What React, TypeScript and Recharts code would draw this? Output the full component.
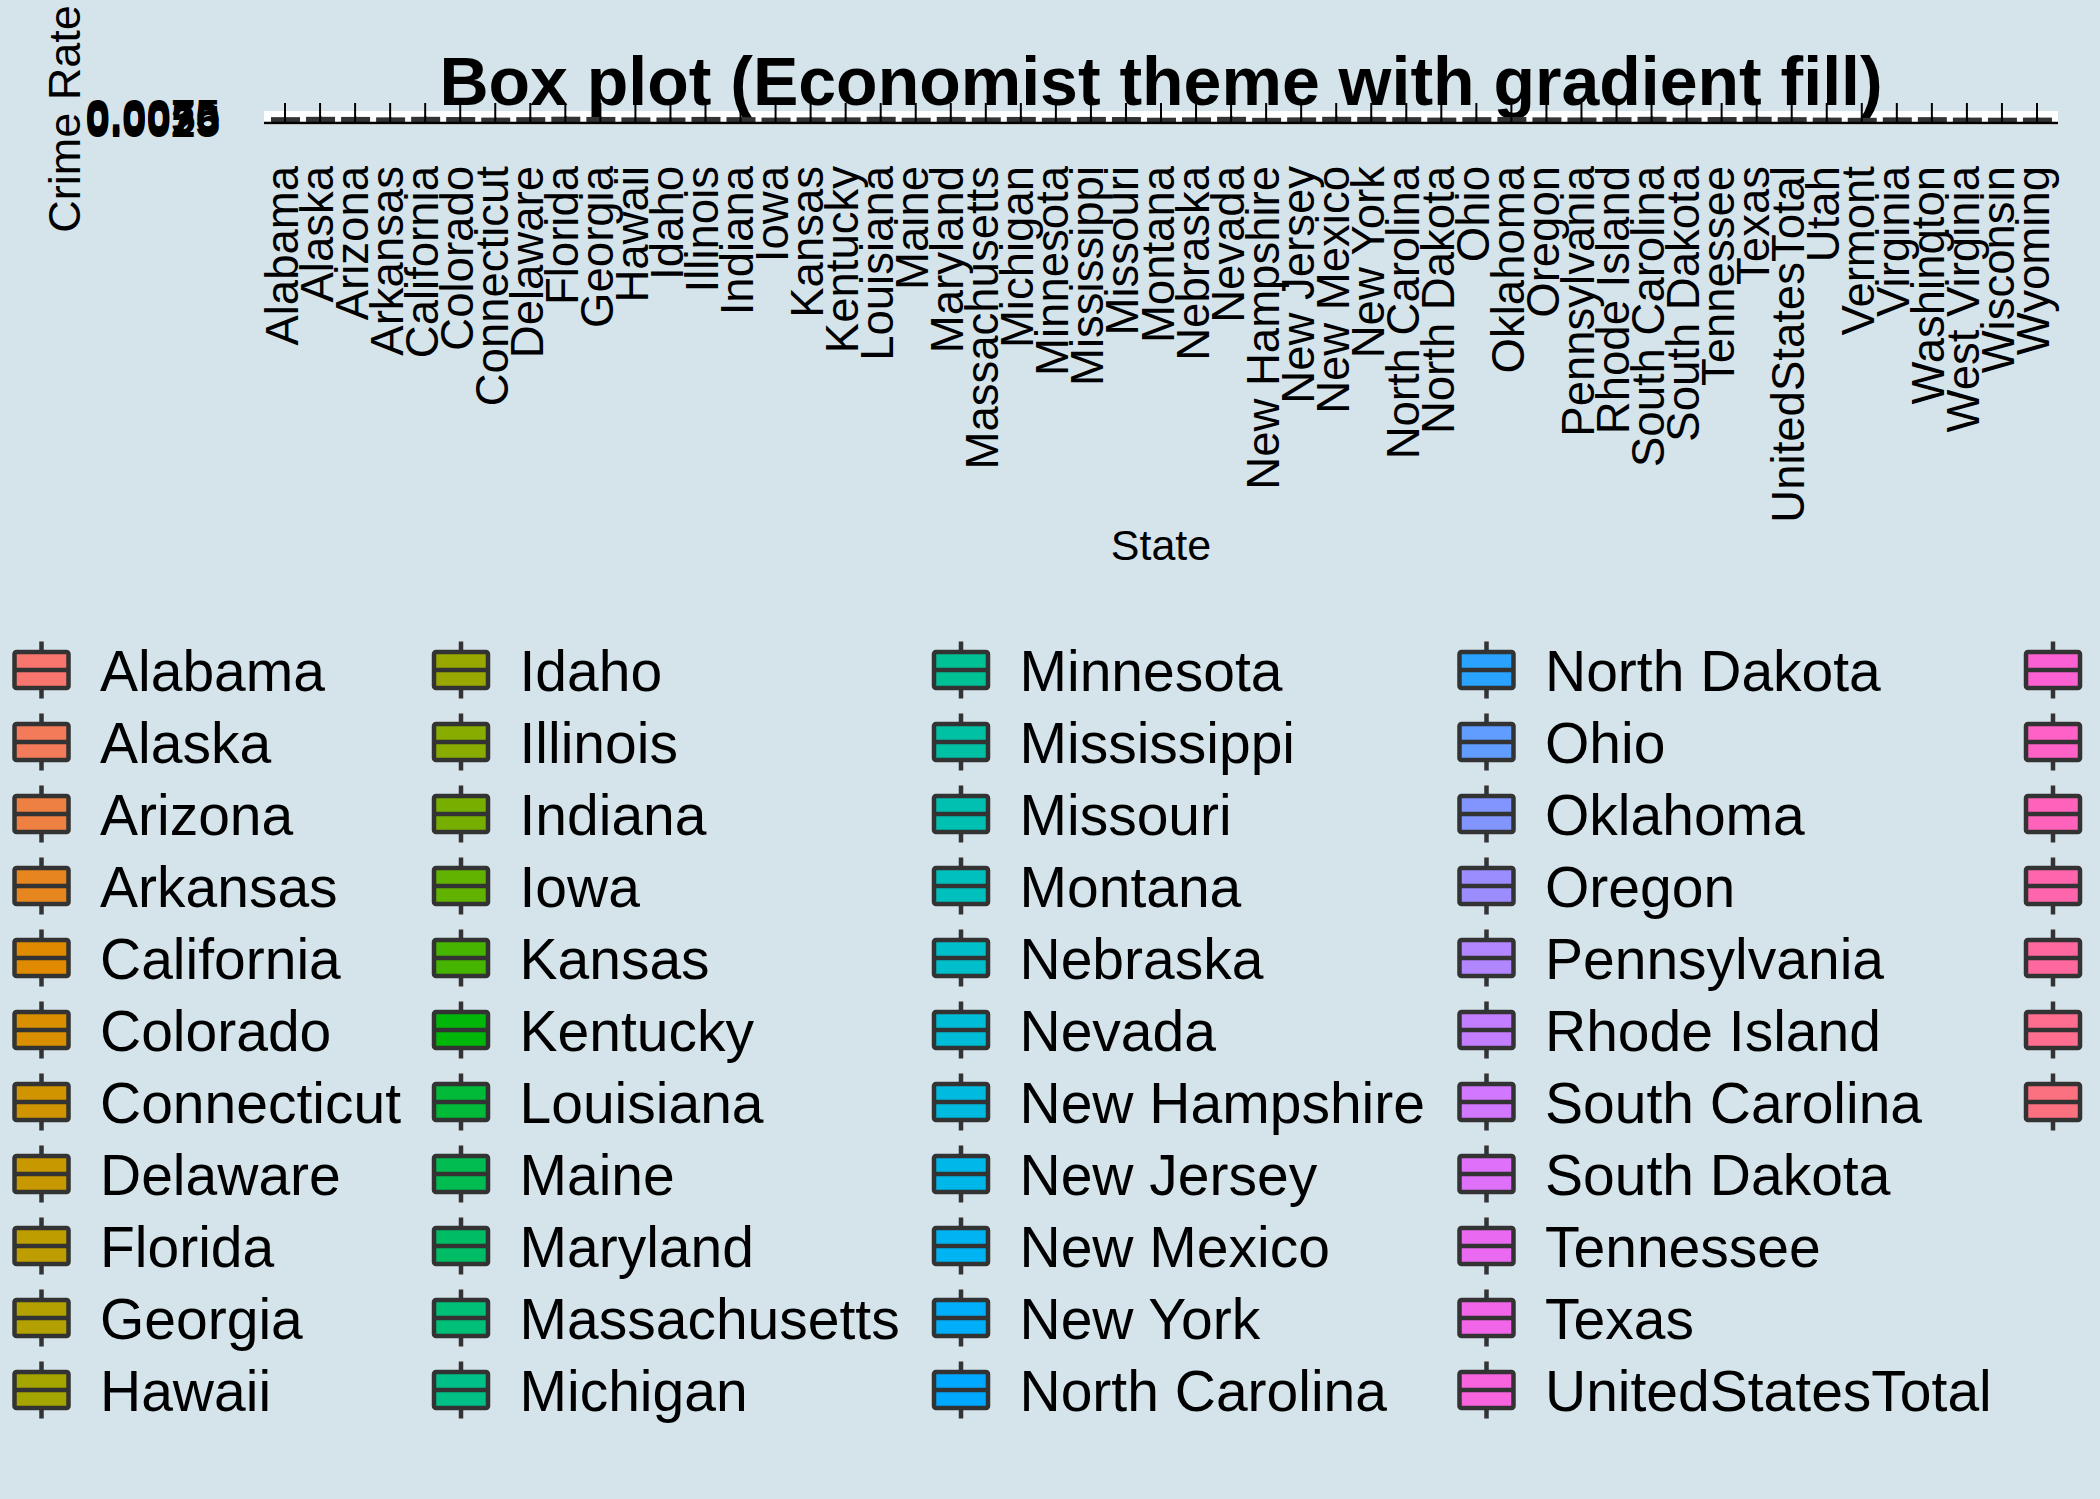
import React from 'react';
import { ComposedChart, Bar, XAxis, YAxis, CartesianGrid, Legend } from 'recharts';

const states = [
  'Alabama', 'Alaska', 'Arizona', 'Arkansas', 'California', 'Colorado', 'Connecticut', 'Delaware',
  'Florida', 'Georgia', 'Hawaii', 'Idaho', 'Illinois', 'Indiana', 'Iowa', 'Kansas', 'Kentucky',
  'Louisiana', 'Maine', 'Maryland', 'Massachusetts', 'Michigan', 'Minnesota', 'Mississippi',
  'Missouri', 'Montana', 'Nebraska', 'Nevada', 'New Hampshire', 'New Jersey', 'New Mexico',
  'New York', 'North Carolina', 'North Dakota', 'Ohio', 'Oklahoma', 'Oregon', 'Pennsylvania',
  'Rhode Island', 'South Carolina', 'South Dakota', 'Tennessee', 'Texas', 'UnitedStatesTotal',
  'Utah', 'Vermont', 'Virginia', 'Washington', 'West Virginia', 'Wisconsin', 'Wyoming',
];

const boxMin = [
  0.0009, 0.0010, 0.0009, 0.0008, 0.0010, 0.0009, 0.0008, 0.0009, 0.0010, 0.0009, 0.0008,
  0.0009, 0.0010, 0.0009, 0.0008, 0.0009, 0.0009, 0.0010, 0.0008, 0.0010, 0.0009, 0.0010,
  0.0008, 0.0009, 0.0010, 0.0008, 0.0009, 0.0010, 0.0008, 0.0009, 0.0010, 0.0010, 0.0009,
  0.0008, 0.0009, 0.0010, 0.0008, 0.0009, 0.0009, 0.0010, 0.0008, 0.0009, 0.0010, 0.0009,
  0.0008, 0.0008, 0.0009, 0.0009, 0.0008, 0.0008, 0.0008,
];
const boxQ1 = [
  0.0020, 0.0022, 0.0021, 0.0019, 0.0022, 0.0020, 0.0018, 0.0020, 0.0023, 0.0021, 0.0019,
  0.0019, 0.0021, 0.0020, 0.0018, 0.0019, 0.0019, 0.0022, 0.0018, 0.0021, 0.0019, 0.0021,
  0.0018, 0.0021, 0.0021, 0.0018, 0.0019, 0.0022, 0.0017, 0.0019, 0.0022, 0.0021, 0.0020,
  0.0018, 0.0020, 0.0021, 0.0019, 0.0019, 0.0020, 0.0022, 0.0018, 0.0021, 0.0022, 0.0020,
  0.0018, 0.0017, 0.0019, 0.0020, 0.0018, 0.0018, 0.0018,
];
const boxMedian = [
  0.0031, 0.0034, 0.0033, 0.0030, 0.0034, 0.0032, 0.0028, 0.0031, 0.0035, 0.0033, 0.0030,
  0.0029, 0.0033, 0.0031, 0.0028, 0.0030, 0.0030, 0.0034, 0.0028, 0.0033, 0.0030, 0.0033,
  0.0028, 0.0033, 0.0032, 0.0028, 0.0030, 0.0034, 0.0027, 0.0030, 0.0034, 0.0033, 0.0031,
  0.0028, 0.0031, 0.0032, 0.0030, 0.0029, 0.0031, 0.0034, 0.0028, 0.0032, 0.0034, 0.0031,
  0.0028, 0.0027, 0.0030, 0.0031, 0.0028, 0.0028, 0.0028,
];
const boxQ3 = [
  0.0046, 0.0049, 0.0048, 0.0044, 0.0049, 0.0047, 0.0042, 0.0046, 0.0050, 0.0048, 0.0044,
  0.0043, 0.0048, 0.0046, 0.0042, 0.0044, 0.0044, 0.0049, 0.0041, 0.0048, 0.0044, 0.0048,
  0.0041, 0.0048, 0.0047, 0.0041, 0.0044, 0.0049, 0.0040, 0.0044, 0.0049, 0.0048, 0.0046,
  0.0042, 0.0046, 0.0047, 0.0044, 0.0043, 0.0046, 0.0049, 0.0042, 0.0047, 0.0049, 0.0046,
  0.0042, 0.0040, 0.0044, 0.0046, 0.0042, 0.0041, 0.0042,
];
const boxMax = [
  0.0062, 0.0068, 0.0065, 0.0059, 0.0067, 0.0063, 0.0056, 0.0062, 0.0070, 0.0065, 0.0059,
  0.0057, 0.0065, 0.0062, 0.0055, 0.0059, 0.0059, 0.0068, 0.0054, 0.0065, 0.0059, 0.0066,
  0.0054, 0.0065, 0.0063, 0.0054, 0.0059, 0.0068, 0.0053, 0.0059, 0.0068, 0.0065, 0.0062,
  0.0056, 0.0062, 0.0063, 0.0059, 0.0057, 0.0062, 0.0068, 0.0055, 0.0063, 0.0068, 0.0062,
  0.0056, 0.0053, 0.0059, 0.0062, 0.0056, 0.0054, 0.0056,
];

const yTicks = [0.0025, 0.005, 0.0075];
const yDomain = [0.0006, 0.0098];

const BG = '#d5e4eb';
const FONT = '"Liberation Sans", Arial, Helvetica, sans-serif';
const OUTLINE = '#333333';

// ggplot's default hue palette: hcl(h, c = 100, l = 65)
function hcl(h: number, c: number, l: number) {
  const hr = (h * Math.PI) / 180;
  const U = c * Math.cos(hr);
  const V = c * Math.sin(hr);
  const Xn = 0.95047, Yn = 1.0, Zn = 1.08883;
  const Y = l > 8 ? Yn * Math.pow((l + 16) / 116, 3) : (Yn * l) / 903.3;
  const t = Xn + 15 * Yn + 3 * Zn;
  const un = (4 * Xn) / t, vn = (9 * Yn) / t;
  const u = U / (13 * l) + un;
  const v = V / (13 * l) + vn;
  const X = (Y * 9 * u) / (4 * v);
  const Z = (Y * (12 - 3 * u - 20 * v)) / (4 * v);
  const lin = [
    3.2404542 * X - 1.5371385 * Y - 0.4985314 * Z,
    -0.969266 * X + 1.8760108 * Y + 0.041556 * Z,
    0.0556434 * X - 0.2040259 * Y + 1.0572252 * Z,
  ];
  const hex = lin
    .map((c0) => {
      let g = c0 <= 0.0031308 ? 12.92 * c0 : 1.055 * Math.pow(c0, 1 / 2.4) - 0.055;
      g = Math.min(1, Math.max(0, g));
      return Math.round(g * 255).toString(16).padStart(2, '0');
    })
    .join('');
  return '#' + hex;
}

const palette = states.map((_, i) => hcl(15 + (i * 360) / states.length, 100, 65));

const rows = states.map((state, i) => ({
  state,
  min: boxMin[i],
  q1: boxQ1[i],
  median: boxMedian[i],
  q3: boxQ3[i],
  max: boxMax[i],
}));

const BoxShape = (props: any) => {
  const { x, y, width, height, payload, index } = props;
  const top = Math.min(y, y + height);
  const bottom = Math.max(y, y + height);
  const span = payload.max - payload.min;
  const py = (v: number) => bottom - ((bottom - top) * (v - payload.min)) / span;
  const cx = x + width / 2;
  return (
    <g>
      <line x1={cx} x2={cx} y1={py(payload.max)} y2={py(payload.min)} stroke={OUTLINE} strokeWidth={2.5} />
      <rect
        x={x}
        y={py(payload.q3)}
        width={width}
        height={py(payload.q1) - py(payload.q3)}
        fill={palette[index]}
        stroke={OUTLINE}
        strokeWidth={3}
      />
      <line x1={x} x2={x + width} y1={py(payload.median)} y2={py(payload.median)} stroke={OUTLINE} strokeWidth={3} />
    </g>
  );
};

const StateTick = (props: any) => {
  const { x, y, payload } = props;
  return (
    <g>
      <line x1={x} x2={x} y1={y} y2={y - 20} stroke="#000" strokeWidth={2} />
      <text
        transform={`translate(${x + 12.5},166) rotate(-90)`}
        textAnchor="end"
        fontSize={45.5}
        fontFamily={FONT}
        fill="#000"
      >
        {payload.value}
      </text>
    </g>
  );
};

const XTitle = (props: any) => {
  const { viewBox } = props;
  return (
    <text x={viewBox.x + viewBox.width / 2} y={viewBox.y + 437} textAnchor="middle" fontSize={43} fontFamily={FONT} fill="#000">
      State
    </text>
  );
};

const YTitle = () => (
  <text transform="translate(80,119) rotate(-90)" textAnchor="middle" fontSize={45} fontFamily={FONT} fill="#000">
    Crime Rate
  </text>
);

const legendCols = [41.5, 461, 961, 1486.5, 2053];
const ROWS_PER_COL = 11;
const CANVAS_W = 2100;

const LegendContent = () => (
  <svg width={CANVAS_W} height={820} style={{ display: 'block', overflow: 'hidden' }}>
    {states.map((s, i) => {
      const col = Math.floor(i / ROWS_PER_COL);
      const row = i % ROWS_PER_COL;
      const cx = legendCols[col];
      const cy = 50 + row * 72;
      const textX = cx + 58.5;
      return (
        <g key={s}>
          <line x1={cx} x2={cx} y1={cy - 28.5} y2={cy + 28.5} stroke={OUTLINE} strokeWidth={4.5} />
          <rect x={cx - 27} y={cy - 18} width={54} height={36} rx={2} fill={palette[i]} stroke={OUTLINE} strokeWidth={4.5} />
          <line x1={cx - 27} x2={cx + 27} y1={cy} y2={cy} stroke={OUTLINE} strokeWidth={4.5} />
          {/* the last column's labels fall past the right edge of the canvas, as in the original */}
          {textX < CANVAS_W && (
            <text x={textX} y={cy + 20.5} fontSize={57} fontFamily={FONT} fill="#000">
              {s}
            </text>
          )}
        </g>
      );
    })}
  </svg>
);

export default function App() {
  return (
    <div
      style={{
        position: 'absolute',
        left: 0,
        top: 0,
        width: CANVAS_W,
        height: 1499,
        background: BG,
        overflow: 'hidden',
      }}
    >
      <ComposedChart width={CANVAS_W} height={1499} data={rows} margin={{ top: 113, right: 42, bottom: 936, left: 0 }}>
        <CartesianGrid vertical={false} stroke="#ffffff" strokeWidth={4} />
        <XAxis
          dataKey="state"
          interval={0}
          padding={{ left: 3.5, right: 3.5 }}
          height={440}
          tickSize={0}
          tickMargin={0}
          axisLine={{ stroke: '#000', strokeWidth: 2.4 }}
          tickLine={false}
          tick={<StateTick />}
          label={<XTitle />}
        />
        <YAxis
          width={264}
          domain={yDomain}
          ticks={yTicks}
          interval={0}
          allowDataOverflow
          axisLine={false}
          tickLine={false}
          tickSize={0}
          tickMargin={44}
          tickFormatter={(v: number) => v.toFixed(4)}
          tick={{ fontSize: 44, fontWeight: 'bold', fill: '#000', fontFamily: FONT }}
          label={<YTitle />}
        />
        <Bar
          dataKey={(d: any) => [d.min, d.max]}
          barSize={26}
          shape={<BoxShape />}
          isAnimationActive={false}
        />
        <text x={1161} y={105} textAnchor="middle" fontSize={68} fontWeight="bold" fontFamily={FONT} fill="#000">
          Box plot (Economist theme with gradient fill)
        </text>
        <Legend
          layout="horizontal"
          verticalAlign="middle"
          align="center"
          wrapperStyle={{ top: 620, left: 0, width: CANVAS_W, height: 820 }}
          content={<LegendContent />}
        />
      </ComposedChart>
    </div>
  );
}
